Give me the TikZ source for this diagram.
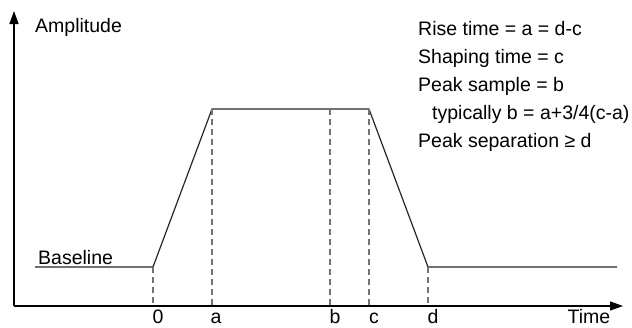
\documentclass[tikz,border=0pt]{standalone}
\usepackage{fontspec}
\setmainfont{Liberation Sans}
\usetikzlibrary{arrows.meta}
\begin{document}
\begin{tikzpicture}[x=1bp,y=-1bp,
  txt/.style={font=\fontsize{19.5bp}{23bp}\selectfont, inner sep=0pt, anchor=base west},
  lbl/.style={font=\fontsize{19.5bp}{23bp}\selectfont, inner sep=0pt, anchor=base},
  axis/.style={line width=1.3bp, -{Triangle[length=13bp,width=9bp]}},
  signal/.style={line width=1.2bp, black!85},
  guide/.style={line width=1.1bp, black!55, dash pattern=on 6bp off 4bp}]
\useasboundingbox (0,0) rectangle (632,327);
% axes
\coordinate (O) at (14,306);
\coordinate (Ytip) at (14,11);
\coordinate (Xtip) at (623,306);
\draw[axis] (O) -- (Ytip);
\draw[axis] (O) -- (Xtip);
% signal points
\coordinate (s0) at (35,267);
\coordinate (p0) at (153,267);
\coordinate (pa) at (212,109);
\coordinate (pc) at (369,109);
\coordinate (pd) at (428,267);
\coordinate (s1) at (617,267);
\coordinate (pb) at (330,109);
\draw[signal] (s0) -- (p0) -- (pa) -- (pc) -- (pd) -- (s1);
% guide feet
\coordinate (f0) at (153,305);
\coordinate (fa) at (212,305);
\coordinate (fb) at (330,305);
\coordinate (fc) at (369,305);
\coordinate (fd) at (428,305);
\draw[guide] (p0) -- (f0);
\draw[guide] (pa) -- (fa);
\draw[guide] (pb) -- (fb);
\draw[guide] (pc) -- (fc);
\draw[guide] (pd) -- (fd);
% tick labels
\node[lbl] (l0) at (158,323) {0};
\node[lbl] (la) at (216,323) {a};
\node[lbl] (lb) at (335,323) {b};
\node[lbl] (lc) at (374,323) {c};
\node[lbl] (ld) at (433,323) {d};
\node[lbl] (time) at (589,323) {Time};
\node[txt] (amp) at (35,32) {Amplitude};
\node[txt] (base) at (38,264) {Baseline};
% legend
\node[txt] (r1) at (418,35) {Rise time = a = d-c};
\node[txt] (r2) at (418,63) {Shaping time = c};
\node[txt] (r3) at (418,91) {Peak sample = b};
\node[txt] (r4) at (432,119) {typically b = a+3/4(c-a)};
\node[txt] (r5) at (418,147) {Peak separation ≥ d};
\end{tikzpicture}
\end{document}
